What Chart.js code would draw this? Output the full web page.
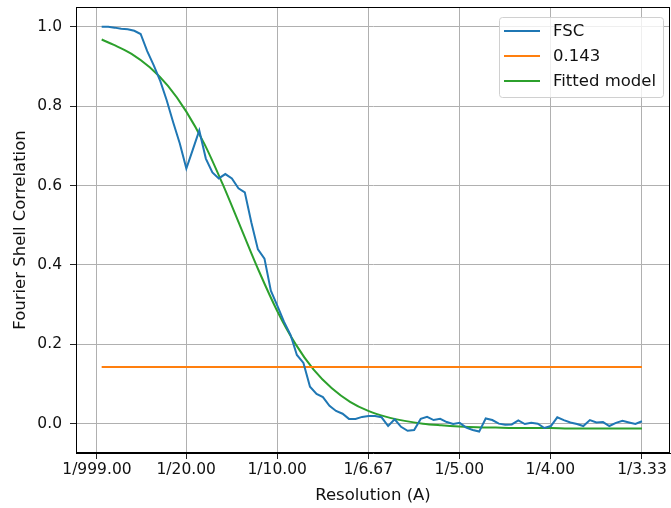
<!DOCTYPE html>
<html>
<head>
<meta charset="utf-8">
<script src="https://cdn.jsdelivr.net/npm/chart.js@4.4.0/dist/chart.umd.min.js"></script>
<style>
  html, body { margin: 0; padding: 0; background: #fff; }
  #wrap { width: 671px; height: 508px; }
</style>
</head>
<body>
<div id="wrap"><canvas id="fscChart" width="671" height="508"></canvas></div>
<script>
// shell frequencies (1/A)
const shellFreq = [
  0.0036, 0.0072, 0.0107, 0.0143, 0.0179, 0.0215, 0.0250, 0.0286, 0.0322, 0.0358,
  0.0393, 0.0429, 0.0465, 0.0501, 0.0536, 0.0572, 0.0608, 0.0644, 0.0679, 0.0715,
  0.0751, 0.0787, 0.0822, 0.0858, 0.0894, 0.0930, 0.0965, 0.1001, 0.1037, 0.1073,
  0.1108, 0.1144, 0.1180, 0.1216, 0.1251, 0.1287, 0.1323, 0.1359, 0.1394, 0.1430,
  0.1466, 0.1502, 0.1537, 0.1573, 0.1609, 0.1645, 0.1680, 0.1716, 0.1752, 0.1788,
  0.1823, 0.1859, 0.1895, 0.1931, 0.1966, 0.2002, 0.2038, 0.2074, 0.2109, 0.2145,
  0.2181, 0.2217, 0.2252, 0.2288, 0.2324, 0.2360, 0.2395, 0.2431, 0.2467, 0.2503,
  0.2538, 0.2574, 0.2610, 0.2646, 0.2681, 0.2717, 0.2753, 0.2789, 0.2824, 0.2860,
  0.2896, 0.2932, 0.2967, 0.3003
];

const fscValues = [
  1.000, 1.000, 0.998, 0.995, 0.994, 0.990, 0.982, 0.939, 0.903, 0.863,
  0.815, 0.759, 0.706, 0.643, 0.690, 0.739, 0.668, 0.633, 0.618, 0.629,
  0.618, 0.593, 0.583, 0.507, 0.439, 0.416, 0.335, 0.297, 0.257, 0.224,
  0.173, 0.153, 0.093, 0.075, 0.067, 0.045, 0.032, 0.025, 0.012, 0.012,
  0.017, 0.019, 0.019, 0.016, -0.006, 0.011, -0.008, -0.018, -0.016, 0.012,
  0.017, 0.009, 0.012, 0.004, -0.001, 0.002, -0.010, -0.016, -0.020, 0.013,
  0.009, 0.000, -0.003, -0.002, 0.008, -0.001, 0.002, 0.000, -0.011, -0.006,
  0.016, 0.009, 0.003, -0.001, -0.006, 0.009, 0.003, 0.004, -0.006, 0.002,
  0.007, 0.003, -0.001, 0.006
];

const thresholdValue = 0.143;

const fitFreq = [
  0.0036, 0.01, 0.02, 0.03, 0.04, 0.05, 0.06, 0.07, 0.08, 0.09,
  0.10, 0.11, 0.12, 0.13, 0.14, 0.15, 0.16, 0.17, 0.18, 0.19,
  0.20, 0.21, 0.22, 0.23, 0.24, 0.25, 0.26, 0.27, 0.28, 0.29, 0.3003
];
const fitValues = [
  0.968, 0.955, 0.932, 0.898, 0.851, 0.787, 0.705, 0.604, 0.494, 0.384,
  0.284, 0.201, 0.136, 0.089, 0.055, 0.032, 0.017, 0.007, 0.000, -0.004,
  -0.007, -0.009, -0.010, -0.011, -0.011, -0.011, -0.012, -0.012, -0.012, -0.012, -0.012
];

const xTickRes = ['999.00', '20.00', '10.00', '6.67', '5.00', '4.00', '3.33'];
const xTickFreq = [0.001, 0.05, 0.1, 0.15, 0.2, 0.25, 0.3003];
const yTicks = [0.0, 0.2, 0.4, 0.6, 0.8, 1.0];

const seriesLabels = ['FSC', '0.143', 'Fitted model'];
const seriesColors = ['#1f77b4', '#ff7f0e', '#2ca02c'];

const FONT = 'DejaVu Sans';
const TICK_SIZE = 15.5;
const LABEL_SIZE = 16.5;
const TEXT_COLOR = '#111';

function initializeChart() {
    const fscPoints = shellFreq.map((f, i) => ({ x: f, y: fscValues[i] }));
    const thrPoints = [
        { x: shellFreq[0], y: thresholdValue },
        { x: shellFreq[shellFreq.length - 1], y: thresholdValue }
    ];
    const fitPoints = fitFreq.map((f, i) => ({ x: f, y: fitValues[i] }));

    // matplotlib style frame + legend inside the axes
    const framePlugin = {
        id: 'frameAndLegend',
        afterDraw(chart) {
            const ctx = chart.ctx;
            const a = chart.chartArea;
            ctx.save();
            ctx.strokeStyle = '#000';
            ctx.lineWidth = 1;
            ctx.strokeRect(a.left + 0.5, a.top + 0.5, a.right - a.left - 1, a.bottom - a.top - 1);

            const w = 164, h = 80;
            const bx = a.right - 7 - w, by = a.top + 10;
            ctx.beginPath();
            ctx.roundRect(bx + 0.5, by + 0.5, w, h, 3);
            ctx.fillStyle = 'rgba(255,255,255,0.8)';
            ctx.fill();
            ctx.strokeStyle = '#d0d0d0';
            ctx.stroke();

            ctx.font = LABEL_SIZE + 'px "' + FONT + '"';
            ctx.textBaseline = 'middle';
            ctx.textAlign = 'left';
            seriesLabels.forEach((lab, i) => {
                const y = by + 14 + i * 25;
                ctx.beginPath();
                ctx.moveTo(bx + 5, y);
                ctx.lineTo(bx + 41, y);
                ctx.strokeStyle = seriesColors[i];
                ctx.lineWidth = 2;
                ctx.stroke();
                ctx.fillStyle = TEXT_COLOR;
                ctx.fillText(lab, bx + 54, y + 1);
            });
            ctx.restore();
        }
    };

    new Chart(document.getElementById('fscChart'), {
        type: 'line',
        data: {
            datasets: [{
                label: seriesLabels[0],
                data: fscPoints,
                borderColor: seriesColors[0],
                borderWidth: 2,
                pointRadius: 0,
                tension: 0
            }, {
                label: seriesLabels[1],
                data: thrPoints,
                borderColor: seriesColors[1],
                borderWidth: 2,
                pointRadius: 0
            }, {
                label: seriesLabels[2],
                data: fitPoints,
                borderColor: seriesColors[2],
                borderWidth: 2,
                pointRadius: 0,
                cubicInterpolationMode: 'monotone'
            }]
        },
        options: {
            responsive: false,
            animation: false,
            layout: { padding: { top: 7, right: 1, left: 0, bottom: 0 } },
            plugins: {
                legend: { display: false },
                tooltip: { enabled: false }
            },
            scales: {
                x: {
                    type: 'linear',
                    min: -0.0105,
                    max: 0.3157,
                    afterFit(scale) {
                        scale.height = 55;
                        scale.paddingLeft = 0;
                        scale.paddingRight = 0;
                    },
                    afterBuildTicks(scale) {
                        scale.ticks = xTickFreq.map(v => ({ value: v }));
                    },
                    ticks: {
                        autoSkip: false,
                        maxRotation: 0,
                        padding: 2,
                        color: TEXT_COLOR,
                        font: { family: FONT, size: TICK_SIZE },
                        callback: function(value, index) {
                            return '1/' + xTickRes[index];
                        }
                    },
                    grid: { color: '#b0b0b0', tickColor: '#222', tickLength: 6, lineWidth: 1 },
                    border: { color: '#000' },
                    title: {
                        display: true,
                        text: 'Resolution (A)',
                        color: TEXT_COLOR,
                        font: { family: FONT, size: LABEL_SIZE },
                        padding: { top: 0, bottom: 2 }
                    }
                },
                y: {
                    min: -0.074,
                    max: 1.05,
                    afterFit(scale) {
                        scale.width = 76;
                        scale.paddingTop = 0;
                        scale.paddingBottom = 0;
                    },
                    afterBuildTicks(scale) {
                        scale.ticks = yTicks.map(v => ({ value: v }));
                    },
                    ticks: {
                        padding: 8,
                        color: TEXT_COLOR,
                        font: { family: FONT, size: TICK_SIZE },
                        callback: v => v.toFixed(1)
                    },
                    grid: { color: '#b0b0b0', tickColor: '#222', tickLength: 6, lineWidth: 1 },
                    border: { color: '#000' },
                    title: {
                        display: true,
                        text: 'Fourier Shell Correlation',
                        color: TEXT_COLOR,
                        font: { family: FONT, size: LABEL_SIZE },
                        padding: { top: 11, bottom: 0 }
                    }
                }
            }
        },
        plugins: [framePlugin]
    });
}

if (document.readyState === 'loading') {
    document.addEventListener('DOMContentLoaded', initializeChart);
} else {
    initializeChart();
}
</script>
</body>
</html>
